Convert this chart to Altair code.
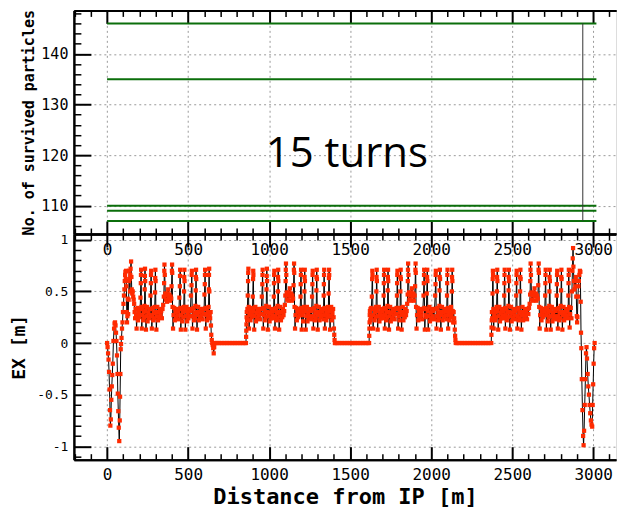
import altair as alt
import pandas as pd

# ---------------- data ----------------
SURVIVED_LEVELS = [146, 135, 110, 109, 107]
LEVEL_START = [0, 0, 0, 0, 0]
LEVEL_END = [3020, 3020, 3020, 3020, 3020]
CUT_S = [2936]
CUT_LOW = [107]
CUT_HIGH = [146]
NOTE_TEXT = ["15 turns"]
NOTE_S = [1480]
NOTE_Y = [117.7]

IR_IN = [(0, 0.0), (3, -0.04), (6, -0.1), (9, -0.16), (12, -0.28), (15, -0.45), (18, -0.65), (20, -0.8),
         (23, -0.74), (26, -0.55), (29, -0.42), (32, -0.31), (35, -0.2), (39, 0.02), (43, 0.14), (46, 0.19),
         (49, 0.2), (52, 0.17), (55, 0.1), (58, 0.02), (61, -0.12), (64, -0.3), (66, -0.49), (69, -0.66),
         (72, -0.82), (75, -0.95), (78, -0.75), (80, -0.52), (82, -0.3), (84, -0.06), (86, -0.01), (89, 0.05),
         (92, 0.14), (95, 0.2), (98, 0.3), (101, 0.38), (104, 0.46)]

ARC1 = [(107, 0.52), (109, 0.6), (111, 0.66), (113, 0.69), (115, 0.62), (117, 0.7), (119, 0.55), (121, 0.3),
        (123, 0.2), (125, 0.26), (127, 0.43), (130, 0.28), (133, 0.42), (135, 0.6), (137, 0.7), (139, 0.62),
        (141, 0.5), (143, 0.66), (145, 0.72), (148, 0.79), (150, 0.64), (152, 0.52), (155, 0.48), (158, 0.5),
        (161, 0.45), (164, 0.42), (167, 0.38), (170, 0.3), (173, 0.24), (176, 0.33), (179, 0.27), (182, 0.14),
        (185, 0.26), (188, 0.34), (191, 0.22), (194, 0.3), (197, 0.25), (200, 0.33), (203, 0.27), (206, 0.44),
        (208, 0.58), (209, 0.66), (210, 0.71), (212, 0.35), (214, 0.14), (217, 0.27), (220, 0.33), (223, 0.22),
        (226, 0.3), (229, 0.25), (231, 0.36), (232, 0.52), (233, 0.65), (234, 0.72), (235, 0.6), (237, 0.31),
        (240, 0.13), (243, 0.26), (246, 0.35), (250, 0.21), (254, 0.29), (258, 0.24), (262, 0.33), (266, 0.27),
        (268, 0.46), (270, 0.58), (271, 0.66), (272, 0.7), (274, 0.33), (276, 0.14), (279, 0.26), (282, 0.34),
        (285, 0.22), (288, 0.29), (291, 0.24), (294, 0.35), (296, 0.49), (297, 0.63), (298, 0.71), (299, 0.6),
        (301, 0.3), (304, 0.13), (307, 0.26), (310, 0.35), (314, 0.22), (318, 0.3), (322, 0.25), (326, 0.33),
        (330, 0.27), (334, 0.31), (338, 0.24), (342, 0.33), (346, 0.37), (350, 0.45), (352, 0.58), (353, 0.7),
        (354, 0.76), (356, 0.66), (359, 0.48), (362, 0.42), (366, 0.46), (370, 0.4), (374, 0.48), (377, 0.52),
        (380, 0.44), (384, 0.47), (388, 0.41), (392, 0.45), (396, 0.43), (398, 0.55), (400, 0.7), (401, 0.76),
        (402, 0.68), (404, 0.35), (407, 0.14), (410, 0.27), (414, 0.34), (418, 0.22), (422, 0.3), (426, 0.25),
        (430, 0.33), (434, 0.27), (438, 0.31), (442, 0.23), (446, 0.44), (449, 0.55), (450, 0.65), (451, 0.71),
        (453, 0.34), (455, 0.13), (458, 0.27), (461, 0.33), (464, 0.21), (467, 0.3), (470, 0.25), (473, 0.35),
        (475, 0.5), (476, 0.64), (477, 0.71), (478, 0.6), (480, 0.31), (483, 0.13), (486, 0.26), (490, 0.35),
        (494, 0.21), (498, 0.29), (502, 0.24), (506, 0.33), (510, 0.26), (514, 0.31), (518, 0.46), (521, 0.56),
        (522, 0.66), (523, 0.7), (525, 0.33), (527, 0.14), (530, 0.26), (533, 0.34), (536, 0.22), (539, 0.29),
        (542, 0.24), (545, 0.36), (547, 0.51), (548, 0.64), (549, 0.71), (550, 0.62), (552, 0.3), (555, 0.13),
        (558, 0.27), (562, 0.35), (566, 0.22), (570, 0.3), (574, 0.25), (578, 0.33), (582, 0.27), (586, 0.31),
        (590, 0.23), (594, 0.33), (598, 0.28), (601, 0.47), (603, 0.57), (604, 0.66), (605, 0.71), (607, 0.34),
        (609, 0.14), (612, 0.27), (615, 0.33), (618, 0.22), (621, 0.3), (624, 0.25), (626, 0.35), (628, 0.52),
        (629, 0.66), (630, 0.72), (631, 0.5), (633, 0.28), (636, 0.24), (639, 0.3), (641, 0.17), (643, 0.08),
        (646, 0.03), (649, 0.0), (652, -0.02), (655, -0.05), (658, -0.1), (661, -0.04), (664, 0.0)]

FLAT1 = [(670, 0.0), (680, 0.0), (690, 0.0), (700, 0.0), (710, 0.0), (720, 0.0), (730, 0.0), (740, 0.0),
         (750, 0.0), (760, 0.0), (770, 0.0), (780, 0.0), (790, 0.0), (800, 0.0), (810, 0.0), (820, 0.0),
         (830, 0.0), (840, 0.0), (850, 0.0)]

ARC2 = [(857, 0.0), (858, 0.06), (859, 0.12), (860, 0.18), (861, 0.25), (862, 0.3), (864, 0.22), (866, 0.33),
        (868, 0.46), (870, 0.6), (871, 0.68), (872, 0.72), (874, 0.35), (876, 0.14), (879, 0.27), (882, 0.33),
        (885, 0.22), (888, 0.3), (891, 0.25), (894, 0.34), (897, 0.27), (899, 0.45), (901, 0.62), (902, 0.7),
        (903, 0.66), (905, 0.31), (908, 0.13), (911, 0.26), (915, 0.35), (919, 0.21), (923, 0.29), (927, 0.24),
        (931, 0.33), (935, 0.27), (939, 0.31), (943, 0.23), (947, 0.33), (951, 0.28), (955, 0.45), (958, 0.57),
        (959, 0.66), (960, 0.71), (962, 0.34), (964, 0.14), (967, 0.27), (970, 0.33), (973, 0.22), (976, 0.3),
        (979, 0.25), (982, 0.36), (984, 0.52), (985, 0.65), (986, 0.72), (987, 0.6), (989, 0.3), (992, 0.13),
        (995, 0.26), (999, 0.35), (1003, 0.21), (1007, 0.29), (1011, 0.24), (1015, 0.33), (1019, 0.27),
        (1023, 0.31), (1027, 0.24), (1029, 0.45), (1030, 0.58), (1031, 0.66), (1032, 0.7), (1034, 0.33),
        (1036, 0.14), (1039, 0.26), (1042, 0.34), (1045, 0.22), (1048, 0.29), (1051, 0.24), (1053, 0.36),
        (1054, 0.5), (1055, 0.64), (1056, 0.71), (1057, 0.6), (1059, 0.3), (1062, 0.13), (1065, 0.26),
        (1069, 0.35), (1073, 0.22), (1077, 0.3), (1081, 0.25), (1085, 0.33), (1089, 0.27), (1093, 0.31),
        (1097, 0.37), (1100, 0.46), (1102, 0.6), (1103, 0.71), (1104, 0.77), (1106, 0.66), (1109, 0.49),
        (1112, 0.42), (1116, 0.46), (1120, 0.41), (1124, 0.49), (1128, 0.53), (1132, 0.45), (1136, 0.48),
        (1140, 0.41), (1144, 0.46), (1148, 0.43), (1151, 0.56), (1153, 0.71), (1154, 0.77), (1155, 0.68),
        (1157, 0.35), (1160, 0.14), (1163, 0.27), (1167, 0.34), (1171, 0.22), (1175, 0.3), (1179, 0.25),
        (1183, 0.33), (1187, 0.27), (1191, 0.31), (1194, 0.45), (1195, 0.57), (1196, 0.66), (1197, 0.71),
        (1199, 0.34), (1201, 0.13), (1204, 0.27), (1207, 0.33), (1210, 0.21), (1213, 0.3), (1216, 0.35),
        (1218, 0.5), (1219, 0.64), (1220, 0.71), (1221, 0.6), (1223, 0.31), (1226, 0.13), (1229, 0.26),
        (1233, 0.35), (1237, 0.21), (1241, 0.29), (1245, 0.24), (1249, 0.33), (1253, 0.26), (1257, 0.31),
        (1261, 0.23), (1265, 0.45), (1267, 0.57), (1268, 0.66), (1269, 0.7), (1271, 0.33), (1273, 0.14),
        (1276, 0.26), (1279, 0.34), (1282, 0.22), (1285, 0.29), (1288, 0.24), (1291, 0.36), (1292, 0.51),
        (1293, 0.64), (1294, 0.71), (1295, 0.62), (1297, 0.3), (1300, 0.13), (1303, 0.27), (1307, 0.35),
        (1311, 0.22), (1315, 0.3), (1319, 0.25), (1323, 0.33), (1327, 0.27), (1331, 0.31), (1335, 0.23),
        (1337, 0.46), (1338, 0.57), (1339, 0.66), (1340, 0.71), (1342, 0.34), (1344, 0.14), (1347, 0.27),
        (1350, 0.33), (1353, 0.22), (1356, 0.3), (1359, 0.25), (1362, 0.35), (1365, 0.27), (1367, 0.48),
        (1369, 0.63), (1370, 0.71), (1371, 0.66), (1373, 0.31), (1376, 0.13), (1379, 0.26), (1383, 0.35),
        (1387, 0.22), (1391, 0.29), (1395, 0.33), (1398, 0.25), (1400, 0.14), (1402, 0.08), (1404, 0.03),
        (1406, 0.0)]

FLAT2 = [(1410, 0.0), (1420, 0.0), (1430, 0.0), (1440, 0.0), (1450, 0.0), (1460, 0.0), (1470, 0.0),
         (1480, 0.0), (1490, 0.0), (1500, 0.0), (1510, 0.0), (1520, 0.0), (1530, 0.0), (1540, 0.0),
         (1550, 0.0), (1560, 0.0), (1570, 0.0), (1580, 0.0), (1590, 0.0), (1600, 0.0), (1610, 0.0)]

ARC3 = [(1617, 0.0), (1618, 0.07), (1619, 0.14), (1620, 0.2), (1621, 0.27), (1622, 0.31), (1624, 0.22),
        (1626, 0.33), (1628, 0.25), (1631, 0.34), (1634, 0.45), (1636, 0.62), (1637, 0.7), (1638, 0.66),
        (1640, 0.33), (1642, 0.14), (1645, 0.27), (1648, 0.33), (1651, 0.22), (1654, 0.3), (1657, 0.25),
        (1660, 0.35), (1662, 0.5), (1663, 0.64), (1664, 0.71), (1665, 0.6), (1667, 0.31), (1670, 0.13),
        (1673, 0.26), (1677, 0.35), (1681, 0.21), (1685, 0.29), (1689, 0.24), (1693, 0.33), (1697, 0.27),
        (1701, 0.31), (1705, 0.24), (1707, 0.46), (1708, 0.58), (1709, 0.66), (1710, 0.71), (1712, 0.34),
        (1714, 0.14), (1717, 0.27), (1720, 0.33), (1723, 0.22), (1726, 0.3), (1729, 0.25), (1731, 0.36),
        (1732, 0.51), (1733, 0.64), (1734, 0.71), (1735, 0.6), (1737, 0.3), (1740, 0.13), (1743, 0.26),
        (1747, 0.35), (1751, 0.21), (1755, 0.29), (1759, 0.24), (1763, 0.33), (1767, 0.27), (1771, 0.31),
        (1775, 0.23), (1779, 0.33), (1783, 0.28), (1787, 0.34), (1789, 0.46), (1790, 0.58), (1791, 0.66),
        (1792, 0.7), (1794, 0.33), (1796, 0.14), (1799, 0.26), (1802, 0.34), (1805, 0.22), (1808, 0.3),
        (1810, 0.5), (1811, 0.64), (1812, 0.71), (1813, 0.62), (1815, 0.3), (1818, 0.13), (1821, 0.27),
        (1825, 0.35), (1829, 0.22), (1833, 0.3), (1837, 0.25), (1841, 0.33), (1845, 0.27), (1849, 0.31),
        (1852, 0.38), (1855, 0.47), (1856, 0.6), (1857, 0.71), (1858, 0.77), (1860, 0.66), (1863, 0.49),
        (1866, 0.42), (1870, 0.46), (1874, 0.41), (1878, 0.49), (1882, 0.53), (1886, 0.45), (1890, 0.48),
        (1894, 0.41), (1898, 0.46), (1901, 0.55), (1903, 0.71), (1904, 0.77), (1905, 0.68), (1907, 0.35),
        (1910, 0.14), (1913, 0.27), (1917, 0.34), (1921, 0.22), (1925, 0.3), (1929, 0.25), (1933, 0.33),
        (1937, 0.27), (1941, 0.31), (1945, 0.23), (1949, 0.33), (1953, 0.46), (1955, 0.58), (1956, 0.66),
        (1957, 0.71), (1959, 0.34), (1961, 0.13), (1964, 0.27), (1967, 0.33), (1970, 0.25), (1973, 0.48),
        (1975, 0.64), (1976, 0.71), (1977, 0.6), (1979, 0.31), (1982, 0.13), (1985, 0.26), (1989, 0.35),
        (1993, 0.21), (1997, 0.29), (2001, 0.24), (2005, 0.33), (2009, 0.26), (2013, 0.31), (2017, 0.23),
        (2021, 0.33), (2025, 0.46), (2027, 0.57), (2028, 0.66), (2029, 0.7), (2031, 0.33), (2033, 0.14),
        (2036, 0.26), (2039, 0.34), (2042, 0.22), (2045, 0.29), (2048, 0.24), (2051, 0.36), (2052, 0.51),
        (2053, 0.64), (2054, 0.71), (2055, 0.62), (2057, 0.3), (2060, 0.13), (2063, 0.27), (2067, 0.35),
        (2071, 0.22), (2075, 0.3), (2079, 0.25), (2083, 0.33), (2087, 0.27), (2091, 0.31), (2095, 0.23),
        (2098, 0.46), (2099, 0.58), (2100, 0.66), (2101, 0.71), (2103, 0.34), (2105, 0.14), (2108, 0.27),
        (2111, 0.33), (2114, 0.22), (2117, 0.3), (2120, 0.25), (2123, 0.35), (2126, 0.27), (2128, 0.5),
        (2129, 0.64), (2130, 0.71), (2131, 0.6), (2133, 0.31), (2136, 0.2), (2139, 0.3), (2142, 0.24),
        (2144, 0.2), (2146, 0.13), (2148, 0.07), (2150, 0.03), (2152, 0.0)]

FLAT3 = [(2160, 0.0), (2170, 0.0), (2180, 0.0), (2190, 0.0), (2200, 0.0), (2210, 0.0), (2220, 0.0),
         (2230, 0.0), (2240, 0.0), (2250, 0.0), (2260, 0.0), (2270, 0.0), (2280, 0.0), (2290, 0.0),
         (2300, 0.0), (2310, 0.0), (2320, 0.0), (2330, 0.0), (2340, 0.0), (2350, 0.0), (2360, 0.0)]

ARC4 = [(2371, 0.0), (2372, 0.08), (2373, 0.15), (2374, 0.22), (2375, 0.3), (2377, 0.24), (2379, 0.48),
        (2380, 0.62), (2381, 0.7), (2382, 0.66), (2384, 0.33), (2386, 0.14), (2389, 0.27), (2392, 0.33),
        (2395, 0.22), (2398, 0.3), (2401, 0.25), (2404, 0.35), (2406, 0.5), (2407, 0.64), (2408, 0.71),
        (2409, 0.6), (2411, 0.31), (2414, 0.13), (2417, 0.26), (2421, 0.35), (2425, 0.21), (2429, 0.29),
        (2433, 0.24), (2437, 0.33), (2441, 0.27), (2445, 0.31), (2449, 0.24), (2451, 0.46), (2452, 0.58),
        (2453, 0.66), (2454, 0.71), (2456, 0.34), (2458, 0.14), (2461, 0.27), (2464, 0.33), (2467, 0.22),
        (2470, 0.3), (2473, 0.25), (2477, 0.36), (2478, 0.51), (2479, 0.64), (2480, 0.71), (2481, 0.6),
        (2483, 0.3), (2486, 0.13), (2489, 0.26), (2493, 0.35), (2497, 0.21), (2501, 0.29), (2505, 0.24),
        (2509, 0.33), (2513, 0.27), (2517, 0.31), (2521, 0.23), (2525, 0.46), (2526, 0.58), (2527, 0.66),
        (2528, 0.7), (2530, 0.33), (2532, 0.14), (2535, 0.26), (2538, 0.34), (2541, 0.22), (2544, 0.29),
        (2547, 0.24), (2549, 0.5), (2550, 0.64), (2551, 0.71), (2552, 0.62), (2554, 0.3), (2557, 0.13),
        (2560, 0.27), (2564, 0.35), (2568, 0.22), (2572, 0.3), (2576, 0.25), (2580, 0.33), (2584, 0.27),
        (2588, 0.31), (2592, 0.23), (2596, 0.33), (2600, 0.28), (2604, 0.34), (2608, 0.38), (2611, 0.47),
        (2612, 0.6), (2613, 0.71), (2614, 0.77), (2616, 0.66), (2619, 0.49), (2622, 0.42), (2626, 0.46),
        (2630, 0.41), (2634, 0.49), (2638, 0.53), (2642, 0.45), (2646, 0.48), (2650, 0.41), (2654, 0.46),
        (2658, 0.43), (2661, 0.56), (2663, 0.71), (2664, 0.77), (2665, 0.68), (2667, 0.35), (2670, 0.14),
        (2673, 0.27), (2677, 0.34), (2681, 0.22), (2685, 0.3), (2689, 0.25), (2693, 0.33), (2697, 0.27),
        (2701, 0.31), (2704, 0.46), (2705, 0.58), (2706, 0.66), (2707, 0.71), (2709, 0.34), (2711, 0.13),
        (2714, 0.27), (2717, 0.33), (2720, 0.21), (2723, 0.3), (2726, 0.25), (2729, 0.36), (2730, 0.5),
        (2731, 0.64), (2732, 0.71), (2733, 0.6), (2735, 0.31), (2738, 0.13), (2741, 0.26), (2745, 0.35),
        (2749, 0.21), (2753, 0.29), (2757, 0.24), (2761, 0.33), (2765, 0.26), (2769, 0.31), (2773, 0.23),
        (2775, 0.46), (2776, 0.57), (2777, 0.66), (2778, 0.7), (2780, 0.33), (2782, 0.14), (2785, 0.26),
        (2788, 0.34), (2791, 0.22), (2794, 0.29), (2797, 0.24), (2800, 0.36), (2802, 0.51), (2803, 0.64),
        (2804, 0.71), (2805, 0.62), (2807, 0.3), (2810, 0.13), (2813, 0.27), (2817, 0.35), (2821, 0.22),
        (2825, 0.3), (2829, 0.25), (2833, 0.33), (2837, 0.27), (2841, 0.31), (2845, 0.24), (2847, 0.46),
        (2848, 0.58), (2849, 0.66), (2850, 0.71), (2852, 0.35), (2855, 0.15), (2858, 0.28), (2862, 0.34),
        (2866, 0.24), (2869, 0.5), (2872, 0.7), (2874, 0.82), (2876, 0.92), (2878, 0.74), (2881, 0.6),
        (2884, 0.52), (2887, 0.6), (2890, 0.55), (2893, 0.64), (2896, 0.45), (2899, 0.26), (2901, 0.2),
        (2903, 0.25), (2906, 0.45), (2909, 0.55), (2912, 0.6), (2915, 0.66), (2918, 0.7), (2921, 0.69),
        (2923, 0.4), (2925, 0.1), (2927, -0.05), (2930, -0.35), (2934, -0.65), (2938, -0.9), (2941, -0.99),
        (2944, -0.85), (2948, -0.6), (2952, -0.35), (2956, -0.1), (2959, -0.04), (2962, -0.15), (2966, -0.3),
        (2970, -0.42), (2974, -0.5), (2978, -0.6), (2982, -0.68), (2986, -0.75), (2990, -0.79), (2994, -0.81),
        (2997, -0.6), (3000, -0.4), (3003, -0.2), (3006, -0.05), (3009, 0.0)]

X_MAJOR = [0, 500, 1000, 1500, 2000, 2500, 3000]
X_MINOR = [-200, -100, 100, 200, 300, 400, 600, 700, 800, 900, 1100, 1200, 1300, 1400, 1600, 1700, 1800,
           1900, 2100, 2200, 2300, 2400, 2600, 2700, 2800, 2900, 3100]
TOP_Y_MAJOR = [110, 120, 130, 140]
TOP_Y_MINOR = [106, 108, 112, 114, 116, 118, 122, 124, 126, 128, 132, 134, 136, 138, 142, 144, 146, 148]
BOT_Y_MAJOR = [-1, -0.5, 0, 0.5, 1]
BOT_Y_MINOR = [-1.1, -0.9, -0.8, -0.7, -0.6, -0.4, -0.3, -0.2, -0.1, 0.1, 0.2, 0.3, 0.4, 0.6, 0.7, 0.8, 0.9]

X_DOMAIN = [-205, 3141]
TOP_Y_DOMAIN = [104.4, 148.6]
BOT_Y_DOMAIN = [-1.13, 1.056]

TOP_Y_TITLE = "No. of survived particles"
BOT_Y_TITLE = "EX [m]"
X_TITLE = "Distance from IP [m]"

# ---------------- styling ----------------
MONO = "DejaVu Sans Mono"
GREEN = "#0b6e0b"
RED = "#ff2a00"
W = 543
H1 = 224
H2 = 226


def axis(orient, values, tick, labels=False, grid=False, title=None, lsize=15, lpad=6,
         tsize=15, tpad=4, twidth=2.0):
    kw = dict(orient=orient, values=values, domain=True, domainColor="black", domainWidth=2,
              ticks=True, tickColor="black", tickWidth=twidth, tickSize={"expr": str(-tick)},
              labels=labels, grid=grid, title=title)
    if labels:
        kw.update(labelFont=MONO, labelFontSize=lsize, labelColor="black",
                  labelPadding=lpad + tick, labelExpr="datum.value + ''",
                  labelOverlap=False, labelFlush=False)
    if grid:
        kw.update(gridColor="#9a9a9a", gridDash=[2, 3], gridWidth=1)
    if title:
        kw.update(titleFont=MONO, titleFontSize=tsize, titleFontWeight="bold",
                  titleColor="black", titlePadding=tpad)
    return alt.Axis(**kw)


xs = alt.Scale(domain=X_DOMAIN, nice=False, zero=False)
ys_top = alt.Scale(domain=TOP_Y_DOMAIN, nice=False, zero=False)
ys_bot = alt.Scale(domain=BOT_Y_DOMAIN, nice=False, zero=False)

levels_df = pd.DataFrame({"level": SURVIVED_LEVELS, "s0": LEVEL_START, "s1": LEVEL_END})
cut_df = pd.DataFrame({"s": CUT_S, "lo": CUT_LOW, "hi": CUT_HIGH})
note_df = pd.DataFrame({"s": NOTE_S, "y": NOTE_Y, "t": NOTE_TEXT})

rows = IR_IN + ARC1 + FLAT1 + ARC2 + FLAT2 + ARC3 + FLAT3 + ARC4
ex_df = pd.DataFrame({"s": [r[0] for r in rows], "ex": [r[1] for r in rows]})

# ---------------- top panel ----------------
green = alt.Chart(levels_df).mark_rule(color=GREEN, strokeWidth=2).encode(
    x=alt.X("s0:Q", scale=xs, axis=axis("bottom", X_MAJOR, 13, labels=True, grid=True, lsize=16, lpad=7)),
    x2="s1:Q",
    y=alt.Y("level:Q", scale=ys_top,
            axis=axis("left", TOP_Y_MAJOR, 17, labels=True, grid=True, title=TOP_Y_TITLE,
                      lsize=15, lpad=6, tsize=15, tpad=4)),
)
top_major2 = alt.Chart(levels_df).mark_point(opacity=0).encode(
    x=alt.X("s0:Q", scale=xs, axis=axis("top", X_MAJOR, 13)),
    y=alt.Y("level:Q", scale=ys_top, axis=None),
)
top_minor1 = alt.Chart(levels_df).mark_point(opacity=0).encode(
    x=alt.X("s0:Q", scale=xs, axis=axis("bottom", X_MINOR, 6, twidth=1.5)),
    y=alt.Y("level:Q", scale=ys_top, axis=axis("left", TOP_Y_MINOR, 7, twidth=1.5)),
)
top_minor2 = alt.Chart(levels_df).mark_point(opacity=0).encode(
    x=alt.X("s0:Q", scale=xs, axis=axis("top", X_MINOR, 6, twidth=1.5)),
    y=alt.Y("level:Q", scale=ys_top, axis=None),
)
vline = alt.Chart(cut_df).mark_rule(color="#333333", strokeWidth=1).encode(
    x=alt.X("s:Q", scale=xs, axis=None),
    y=alt.Y("lo:Q", scale=ys_top, axis=None),
    y2="hi:Q",
)
note = alt.Chart(note_df).mark_text(font="Open Sans", fontSize=42, align="center",
                                    baseline="alphabetic", color="black").encode(
    x=alt.X("s:Q", scale=xs, axis=None),
    y=alt.Y("y:Q", scale=ys_top, axis=None),
    text="t:N",
)
top = alt.layer(green, vline, note, top_major2, top_minor1, top_minor2).resolve_axis(
    x="independent", y="independent").properties(width=W, height=H1)

# ---------------- bottom panel ----------------
line = alt.Chart(ex_df).mark_line(color="black", strokeWidth=1).encode(
    x=alt.X("s:Q", scale=xs, axis=axis("bottom", X_MAJOR, 13, labels=True, grid=True, title=X_TITLE,
                                       lsize=16, lpad=7, tsize=22, tpad=4)),
    y=alt.Y("ex:Q", scale=ys_bot, axis=axis("left", BOT_Y_MAJOR, 17, labels=True, grid=True,
                                            title=BOT_Y_TITLE, lsize=13, lpad=6, tsize=18, tpad=8)),
)
pts = alt.Chart(ex_df).mark_square(size=18, color=RED, opacity=1).encode(
    x=alt.X("s:Q", scale=xs, axis=axis("top", X_MAJOR, 13)),
    y=alt.Y("ex:Q", scale=ys_bot, axis=None),
)
bot_minor1 = alt.Chart(ex_df).mark_point(opacity=0).encode(
    x=alt.X("s:Q", scale=xs, axis=axis("bottom", X_MINOR, 6, twidth=1.5)),
    y=alt.Y("ex:Q", scale=ys_bot, axis=axis("left", BOT_Y_MINOR, 7, twidth=1.5)),
)
bot_minor2 = alt.Chart(ex_df).mark_point(opacity=0).encode(
    x=alt.X("s:Q", scale=xs, axis=axis("top", X_MINOR, 6, twidth=1.5)),
    y=alt.Y("ex:Q", scale=ys_bot, axis=None),
)
bottom = alt.layer(line, pts, bot_minor1, bot_minor2).resolve_axis(
    x="independent", y="independent").properties(width=W, height=H2)

chart = alt.vconcat(top, bottom, spacing=0, bounds="flush").properties(
    padding={"left": 2, "top": 0, "right": 0, "bottom": 0}
).configure_view(stroke=None).configure(background="white")

chart.save("out.html", embed_options={"renderer": "svg", "actions": False})
